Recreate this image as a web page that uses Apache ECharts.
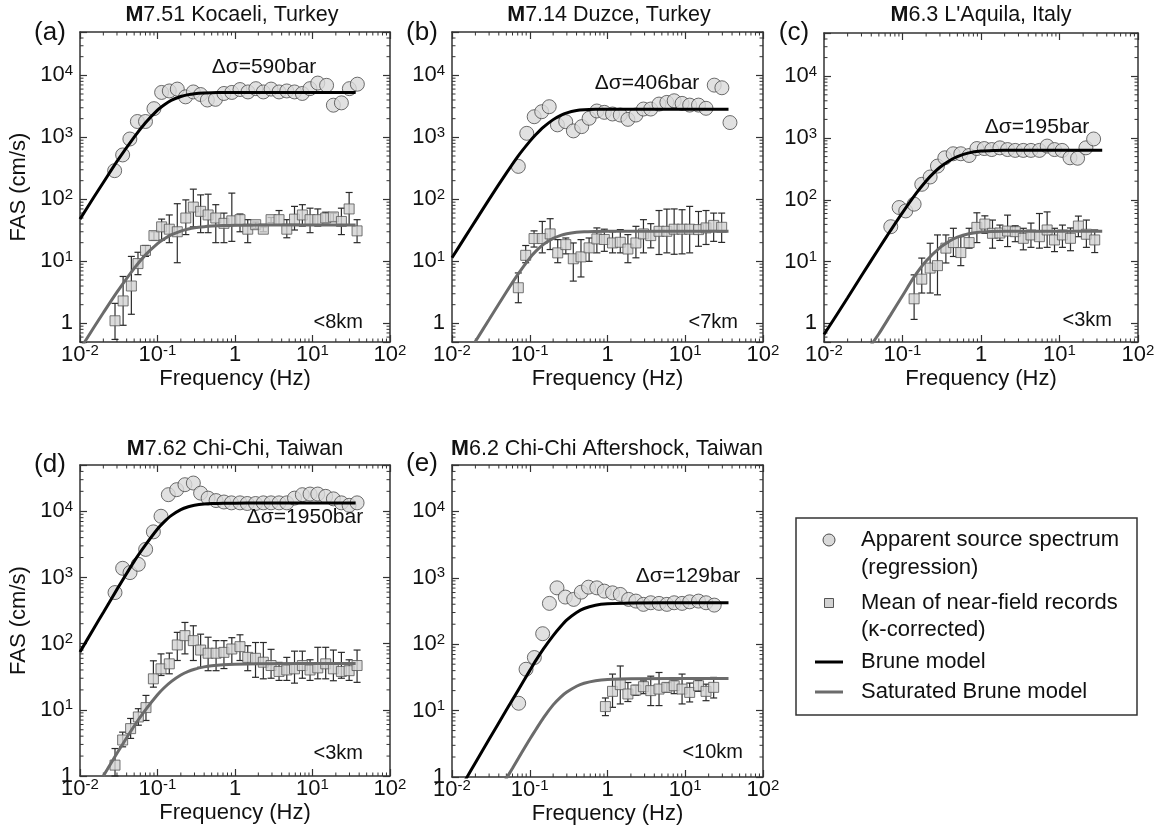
<!DOCTYPE html>
<html><head><meta charset="utf-8">
<script src="https://cdn.jsdelivr.net/npm/echarts@6/dist/echarts.min.js"></script>
<style>html,body{margin:0;padding:0;background:#fff}#c{width:1160px;height:834px}</style>
</head><body><div id="c"></div><script>
// ---------------- DATA ----------------
// circles: [freq Hz, FAS]; squares: [freq, mean, lower, upper]; model curves: [freq, FAS]
const kocaeliCircles = [[0.028,290],[0.0355,520],[0.044,940],[0.055,1800],[0.07,1800],[0.09,2900],[0.113,5300],[0.142,5600],[0.18,6000],[0.23,4500],[0.29,5400],[0.36,4900],[0.44,4000],[0.56,4100],[0.72,5100],[0.91,5300],[1.16,5900],[1.47,5400],[1.86,6100],[2.32,5400],[2.92,6000],[3.7,5400],[4.66,5600],[5.86,5400],[7.39,5100],[9.27,6100],[11.7,7500],[15.2,6900],[18.6,3300],[23.6,3600],[29.9,6100],[37.9,7200]];
const kocaeliSquares = [[0.0283,1.1,0.55,2.1],[0.036,2.3,0.93,5.7],[0.046,4.0,1.4,12],[0.056,9.2,6.1,14],[0.07,15,12,18],[0.09,26,22,30],[0.113,36,22,48],[0.142,33,20,56],[0.18,30,9.5,85],[0.232,50,27,98],[0.29,75,36,146],[0.36,64,29,118],[0.45,56,29,121],[0.565,50,20,82],[0.72,41,20,60],[0.91,45,21,126],[1.16,47,30,58],[1.46,33,20,47],[1.85,39,34,43],[2.32,33,30,36],[2.92,47,42,51],[3.7,47,38,66],[4.66,33,24,47],[5.86,48,32,77],[7.4,56,37,82],[9.3,47,29,72],[11.7,47,37,70],[14.8,50,42,62],[18.6,52,44,60],[23.6,44,27,72],[29.7,70,39,129],[37.6,31,20,47]];
const kocaeliBrune = [[0.01,48],[0.015,107],[0.02,187],[0.03,410],[0.05,1010],[0.07,1720],[0.1,2750],[0.12,3300],[0.15,3950],[0.2,4550],[0.25,4880],[0.3,5060],[0.4,5200],[0.5,5250],[0.7,5280],[1,5290],[2,5300],[36,5300]];
const kocaeliSat = [[0.01,0.38],[0.015,0.85],[0.02,1.48],[0.03,3.18],[0.05,7.7],[0.07,12.7],[0.1,19.3],[0.12,22.7],[0.15,26.7],[0.2,30.8],[0.25,33.2],[0.3,34.7],[0.4,36.2],[0.5,37.0],[0.7,37.7],[1,38.1],[2,38.4],[5,38.5],[36,38.5]];

const duzceCircles = [[0.0713,340],[0.0915,1160],[0.114,2150],[0.1425,2590],[0.178,3120],[0.227,1590],[0.29,1790],[0.364,1270],[0.466,1490],[0.58,2030],[0.73,2660],[0.91,2530],[1.16,2380],[1.46,2290],[1.83,1950],[2.32,2290],[2.9,2860],[3.6,2860],[4.6,3440],[5.8,3660],[7.2,3890],[9.1,3530],[11.4,3310],[14.8,3310],[18.5,2940],[23.6,6950],[29.6,6300],[37.6,1730]];
const duzceSquares = [[0.0713,3.75,2.15,6.5],[0.0887,12.5,9.5,18],[0.1136,23.3,17,31],[0.145,23.3,13.7,44],[0.183,27.7,15.5,48.7],[0.229,13.7,9.5,22.4],[0.291,18.6,13.2,23.8],[0.363,11,4.8,19.8],[0.456,11.8,5.6,22.4],[0.58,16.5,10,23.8],[0.73,23,13.7,34.6],[0.91,22.5,14.5,33],[1.16,19.8,13.7,30],[1.46,20.3,13.7,32.5],[1.83,15.8,9.5,27],[2.32,19.8,11.4,36.7],[2.9,27.7,13.7,47],[3.6,26,16.5,40.5],[4.6,30.5,12.9,66],[5.8,30.5,13.7,69.6],[7.2,33,13,70],[9.1,33,13.2,68],[11.4,33,13.7,77],[14.8,32.5,17.5,63.7],[18.5,34.6,18.7,66],[23.2,38,21,60],[29.4,35.4,20.2,60]];
const duzceBrune = [[0.01,11.4],[0.015,25.5],[0.02,45],[0.03,100],[0.05,265],[0.07,490],[0.1,860],[0.12,1110],[0.15,1460],[0.2,1930],[0.25,2260],[0.3,2480],[0.4,2700],[0.5,2780],[0.7,2830],[1,2845],[2,2850],[36,2850]];
const duzceSat = [[0.0198,0.5],[0.03,1.15],[0.05,3.2],[0.07,6.1],[0.1,11.3],[0.12,14.6],[0.15,18.8],[0.2,23.5],[0.25,26.3],[0.3,27.9],[0.4,29.4],[0.5,30],[0.7,30.3],[1,30.5],[36,30.5]];

const aquilaCircles = [[0.0709,36.7],[0.0906,75],[0.110,66],[0.1406,85],[0.176,178],[0.225,234],[0.279,351],[0.346,478],[0.442,556],[0.553,556],[0.706,521],[0.886,675],[1.10,675],[1.37,650],[1.74,693],[2.18,650],[2.73,630],[3.46,630],[4.33,630],[5.55,630],[6.96,740],[8.64,650],[10.8,630],[13.6,478],[17.0,470],[21.7,693],[27.2,964]];
const aquilaSquares = [[0.1406,2.5,1.16,6.1],[0.176,5.2,3.1,11.4],[0.225,7.85,3.1,19.8],[0.279,8.6,2.9,27],[0.357,16.5,9.5,27],[0.445,20.3,12.1,34.6],[0.553,14,8.6,25.3],[0.706,20.3,16.5,34.6],[0.886,35.8,20.3,61.6],[1.12,40.5,28.7,55],[1.4,28.7,16.5,47],[1.74,29,22,39],[2.18,31.2,17.5,56.5],[2.73,30.5,21,38],[3.46,23.8,15.5,34.6],[4.33,27,17,42],[5.55,25.3,16.5,60],[6.96,32.5,17,63.7],[8.64,22.4,14.5,34.6],[10.9,27,17,39],[13.8,23.8,15,35],[17.4,37.6,25.3,54.5],[22,27.7,17,47],[28.1,22.4,14,32.5]];
const aquilaBrune = [[0.01,0.66],[0.02,2.6],[0.03,5.9],[0.05,16.3],[0.07,31.5],[0.1,62],[0.15,128],[0.2,202],[0.25,272],[0.3,336],[0.4,432],[0.5,500],[0.7,574],[1,614],[1.5,628],[2,631],[35,632]];
const aquilaSat = [[0.04,0.45],[0.05,0.68],[0.07,1.35],[0.1,2.8],[0.14,5.6],[0.2,10.2],[0.3,16.8],[0.4,21.5],[0.5,24.8],[0.7,28.2],[1,30.2],[2,31],[35,31]];

const chichiCircles = [[0.0283,591],[0.0355,1375],[0.0442,1183],[0.0565,1578],[0.0703,2655],[0.0885,4886],[0.111,8410],[0.138,17800],[0.177,21200],[0.226,25200],[0.29,26700],[0.36,18800],[0.45,15800],[0.57,14500],[0.72,13800],[0.9,13400],[1.16,13400],[1.44,13100],[1.84,13100],[2.32,13400],[2.92,13400],[3.7,13400],[4.66,13400],[5.86,15800],[7.4,17800],[9.3,18200],[11.7,18200],[14.8,16800],[18.6,15400],[23.6,13400],[29.7,12300],[37.6,13400]];
const chichiSquares = [[0.0283,1.46,1.0,2.6],[0.0355,3.5,2.76,4.6],[0.045,5.2,3.7,7.4],[0.0566,7.8,5.85,10.4],[0.071,10.8,6.9,16.5],[0.0885,29.4,22,55],[0.111,41.6,33,70],[0.142,49.5,35,72],[0.18,95.6,55.6,148],[0.226,132,70,209],[0.29,111,55.6,186],[0.36,80,44,139],[0.45,71.6,39,125],[0.57,71.6,39,111],[0.72,73.8,42,111],[0.91,83,49.5,123],[1.16,90,55.6,136],[1.46,62,39,93],[1.84,60,31,104],[2.32,52.4,29.4,104],[2.92,46.7,30,82],[3.7,38,27.8,52],[4.66,40,27.8,62],[5.86,41.6,25.3,77],[7.4,46.7,30,77],[9.3,40,27.8,57],[11.7,43,29.4,88],[14.8,49.5,29.4,88],[18.6,41.6,27.5,80],[23.6,38,30,73.8],[29.7,39,27.8,57],[37.6,46.7,26,80]];
const chichiBrune = [[0.01,75],[0.015,168],[0.02,296],[0.03,660],[0.05,1750],[0.07,3100],[0.1,5400],[0.12,6800],[0.15,8600],[0.2,10600],[0.25,11700],[0.3,12300],[0.4,12850],[0.5,13050],[0.7,13200],[1,13260],[2,13300],[36,13300]];
const chichiSat = [[0.02,1.0],[0.03,2.2],[0.05,5.7],[0.07,10],[0.1,16.9],[0.12,21.2],[0.15,26.7],[0.2,33.6],[0.25,38.2],[0.3,41.1],[0.4,44.5],[0.5,46.4],[0.7,48.1],[1,49],[2,49.8],[36,50]];

const afterCircles = [[0.072,12.9],[0.0896,42],[0.1146,63],[0.1466,144],[0.179,412],[0.224,706],[0.2865,513],[0.367,473],[0.46,608],[0.57,723],[0.73,706],[0.91,630],[1.16,594],[1.46,562],[1.87,473],[2.32,446],[2.9,398],[3.6,421],[4.6,412],[5.8,398],[7.2,421],[9.1,412],[11.4,435],[14.8,446],[18.5,421],[23.6,388]];
const afterSquares = [[0.94,11.5,8.4,15.5],[1.16,19.5,11.2,35.5],[1.46,24.6,12.6,47],[1.83,17.8,13.7,26.5],[2.32,20.4,17,24],[2.9,22.9,18,28],[3.6,20,11.9,33],[4.6,21.1,11.9,37.5],[5.8,22.4,19,26],[7.2,23.7,18,28],[9.1,21.1,12.6,35.5],[11.4,18.8,13.5,26],[14.8,23.7,19.5,28.5],[18.5,19.5,14.1,25],[23.2,22.4,15.5,31.6]];
const afterBrune = [[0.01,0.41],[0.015,0.92],[0.02,1.64],[0.03,3.7],[0.05,10.2],[0.07,19.8],[0.1,40],[0.12,57],[0.15,85],[0.2,135],[0.25,185],[0.3,232],[0.4,300],[0.5,345],[0.7,385],[1,405],[2,418],[5,421],[36,421]];
const afterSat = [[0.04,0.6],[0.05,0.95],[0.06,1.35],[0.08,2.4],[0.1,3.7],[0.12,5.2],[0.15,7.8],[0.2,12.2],[0.25,16],[0.3,19],[0.4,23.3],[0.5,25.8],[0.7,28.2],[1,29.5],[2,30.3],[36,30.5]];

const panelTitles = ['7.51 Kocaeli, Turkey','7.14 Duzce, Turkey','6.3 L\'Aquila, Italy','7.62 Chi-Chi, Taiwan','6.2 Chi-Chi Aftershock, Taiwan'];
const panelLetters = ['(a)','(b)','(c)','(d)','(e)'];
const stressDrops = ['Δσ=590bar','Δσ=406bar','Δσ=195bar','Δσ=1950bar','Δσ=129bar'];
const distances = ['<8km','<7km','<3km','<3km','<10km'];
const legendLabels = [['Apparent source spectrum','(regression)'],['Mean of near-field records','(κ-corrected)'],['Brune model'],['Saturated Brune model']];

const X_MIN = 0.01, X_MAX = 100, Y_MAX = 50000;
const Y_MINS = [0.5, 0.5, 0.5, 1, 1];
const X_DECADES = [0.01, 0.1, 1, 10];
const Y_DECADES = [0.1, 1, 10, 100, 1000, 10000];
const MINOR_MULT = [2,3,4,5,6,7,8,9];

// ---------------- LAYOUT ----------------
const FONT = '"Liberation Sans", Arial, Helvetica, sans-serif';
const INK = '#111';
const grids = [
  {left:80, top:32, width:310, height:310},
  {left:452, top:32, width:311, height:310},
  {left:824, top:33, width:314, height:309},
  {left:80, top:465, width:310, height:311},
  {left:452, top:465, width:311, height:312}
];
const panels = [
  {c:kocaeliCircles, s:kocaeliSquares, b:kocaeliBrune, g:kocaeliSat},
  {c:duzceCircles, s:duzceSquares, b:duzceBrune, g:duzceSat},
  {c:aquilaCircles, s:aquilaSquares, b:aquilaBrune, g:aquilaSat},
  {c:chichiCircles, s:chichiSquares, b:chichiBrune, g:chichiSat},
  {c:afterCircles, s:afterSquares, b:afterBrune, g:afterSat}
];
const titlePos = [[232,15],[609,15],[981,15],[235,449],[607,449]];
const letterPos = [[50,33],[422,33],[794,33],[50,465],[422,464]];
const dsPos = [[264,67],[647,83],[1037,127],[305,517],[688,576]];
const distPos = [[363,322],[738,322],[1112,320],[363,753],[743,752]];

function logLabel(v){
  const l = Math.log10(v), e = Math.round(l);
  if (Math.abs(l - e) > 1e-6) return '';
  if (e === 0) return '1';
  return '10{s|' + e + '}';
}
const labelRich = { s:{fontSize:15, fontFamily:FONT, color:INK, verticalAlign:'top', lineHeight:13} };
const axisLineStyle = {color:'#333', width:1.5};
const tickStyle = {color:'#333', width:1.2};

const xAxes = [], yAxes = [], series = [];
grids.forEach((g, i) => {
  xAxes.push({type:'log', logBase:10, gridIndex:i, min:X_MIN, max:X_MAX, position:'bottom',
    axisLine:{show:true, onZero:false, lineStyle:axisLineStyle},
    axisTick:{show:true, inside:true, length:7, lineStyle:tickStyle},
    splitLine:{show:false}, minorTick:{show:false}, minorSplitLine:{show:false},
    axisLabel:{show:true, formatter:logLabel, rich:labelRich, margin:1, fontSize:22, lineHeight:24, color:INK, fontFamily:FONT, showMinLabel:true, showMaxLabel:true},
    name:'Frequency (Hz)', nameLocation:'middle', nameGap:23,
    nameTextStyle:{fontSize:22, color:INK, fontFamily:FONT}});
  xAxes.push({type:'log', logBase:10, gridIndex:i, min:X_MIN, max:X_MAX, position:'top',
    axisLine:{show:true, onZero:false, lineStyle:axisLineStyle},
    axisTick:{show:true, inside:true, length:7, lineStyle:tickStyle},
    splitLine:{show:false}, axisLabel:{show:false}});
  yAxes.push({type:'log', logBase:10, gridIndex:i, min:Y_MINS[i], max:Y_MAX, position:'left',
    axisLine:{show:true, onZero:false, lineStyle:axisLineStyle},
    axisTick:{show:true, inside:true, length:7, lineStyle:tickStyle},
    splitLine:{show:false}, minorTick:{show:false},
    axisLabel:{show:true, formatter:logLabel, rich:labelRich, margin:7, fontSize:22, lineHeight:24, color:INK, fontFamily:FONT, showMinLabel:true, showMaxLabel:true},
    name:(i===0||i===3)?'FAS (cm/s)':'', nameLocation:'middle', nameGap:50, nameRotate:90,
    nameTextStyle:{fontSize:22, color:INK, fontFamily:FONT}});
  yAxes.push({type:'log', logBase:10, gridIndex:i, min:Y_MINS[i], max:Y_MAX, position:'right',
    axisLine:{show:true, onZero:false, lineStyle:axisLineStyle},
    axisTick:{show:true, inside:true, length:7, lineStyle:tickStyle},
    splitLine:{show:false}, axisLabel:{show:false}});

  // minor ticks on all four sides (axis decoration, placed through the log scales)
  const minorData = [];
  X_DECADES.forEach(d => MINOR_MULT.forEach(m => minorData.push([m*d, 1, 0])));
  Y_DECADES.forEach(d => MINOR_MULT.forEach(m => { const v = m*d; if (v > Y_MINS[i]*1.0001 && v < Y_MAX*0.9999) minorData.push([1, v, 1]); }));
  series.push({type:'custom', xAxisIndex:2*i, yAxisIndex:2*i, silent:true, clip:false, z:1,
    encode:{x:0, y:1}, data:minorData,
    renderItem:(params, api) => {
      const cs = params.coordSys; const L = 3.5; const st = {stroke:'#333', lineWidth:1};
      if (api.value(2) === 0) {
        const x = api.coord([api.value(0), Y_MINS[i]*2])[0];
        return {type:'group', children:[
          {type:'line', shape:{x1:x, y1:cs.y+cs.height, x2:x, y2:cs.y+cs.height-L}, style:st},
          {type:'line', shape:{x1:x, y1:cs.y, x2:x, y2:cs.y+L}, style:st}]};
      }
      const y = api.coord([1, api.value(1)])[1];
      return {type:'group', children:[
        {type:'line', shape:{x1:cs.x, y1:y, x2:cs.x+L, y2:y}, style:st},
        {type:'line', shape:{x1:cs.x+cs.width, y1:y, x2:cs.x+cs.width-L, y2:y}, style:st}]};
    }});

  const p = panels[i];
  // error bars of near-field means
  series.push({type:'custom', xAxisIndex:2*i, yAxisIndex:2*i, silent:true, z:2,
    encode:{x:0, y:[2,3]}, data:p.s,
    renderItem:(params, api) => {
      const f = api.value(0);
      const lo = api.coord([f, api.value(2)]), hi = api.coord([f, api.value(3)]);
      const cs = params.coordSys;
      const yb = Math.min(lo[1], cs.y + cs.height);
      const st = {stroke:'#2a2a2a', lineWidth:1.2};
      const ch = [{type:'line', shape:{x1:lo[0], y1:yb, x2:hi[0], y2:hi[1]}, style:st},
                  {type:'line', shape:{x1:hi[0]-3.5, y1:hi[1], x2:hi[0]+3.5, y2:hi[1]}, style:st}];
      if (lo[1] <= cs.y + cs.height) ch.push({type:'line', shape:{x1:lo[0]-3.5, y1:lo[1], x2:lo[0]+3.5, y2:lo[1]}, style:st});
      return {type:'group', children:ch};
    }});
  series.push({type:'scatter', xAxisIndex:2*i, yAxisIndex:2*i, z:3, silent:true,
    encode:{x:0, y:1}, data:p.s, symbol:'rect', symbolSize:10,
    itemStyle:{color:'#d2d2d2', borderColor:'#555', borderWidth:1}});
  series.push({type:'scatter', xAxisIndex:2*i, yAxisIndex:2*i, z:3, silent:true,
    data:p.c, symbol:'circle', symbolSize:14,
    itemStyle:{color:'#d9d9d9', borderColor:'#4a4a4a', borderWidth:1}});
  series.push({type:'line', xAxisIndex:2*i, yAxisIndex:2*i, z:4, silent:true, clip:true,
    data:p.g, showSymbol:false, smooth:0.25, lineStyle:{color:'#6b6b6b', width:3}});
  series.push({type:'line', xAxisIndex:2*i, yAxisIndex:2*i, z:5, silent:true, clip:true,
    data:p.b, showSymbol:false, smooth:0.25, lineStyle:{color:'#000', width:3}});
});

// ---------------- TEXT & LEGEND ----------------
function txt(x, y, text, size, align, extra){
  return Object.assign({type:'text', x:x, y:y, silent:true, z:10,
    style:Object.assign({text:text, fill:INK, fontSize:size, fontFamily:FONT,
      align:align||'center', verticalAlign:'middle', textAlign:align||'center', textVerticalAlign:'middle'}, extra||{})});
}
const graphics = [];
panelTitles.forEach((t, i) => graphics.push(txt(titlePos[i][0], titlePos[i][1], '{b|M}' + t, 21.5, 'center',
  {rich:{b:{fontWeight:'bold', fontSize:21.5, fontFamily:FONT, fill:INK}}})));
panelLetters.forEach((t, i) => graphics.push(txt(letterPos[i][0], letterPos[i][1], t, 26)));
stressDrops.forEach((t, i) => graphics.push(txt(dsPos[i][0], dsPos[i][1], t, 21)));
distances.forEach((t, i) => graphics.push(txt(distPos[i][0], distPos[i][1], t, 20, 'right')));

// legend box
graphics.push({type:'rect', silent:true, z:9, shape:{x:796, y:518, width:341, height:197},
  style:{fill:'#fff', stroke:'#333', lineWidth:1.5}});
graphics.push({type:'circle', silent:true, z:10, shape:{cx:829, cy:540, r:6}, style:{fill:'#d9d9d9', stroke:'#4a4a4a', lineWidth:1}});
graphics.push({type:'rect', silent:true, z:10, shape:{x:824.5, y:598.5, width:9, height:9}, style:{fill:'#d2d2d2', stroke:'#555', lineWidth:1}});
graphics.push({type:'line', silent:true, z:10, shape:{x1:815, y1:662, x2:843, y2:662}, style:{stroke:'#000', lineWidth:3}});
graphics.push({type:'line', silent:true, z:10, shape:{x1:815, y1:692, x2:843, y2:692}, style:{stroke:'#6b6b6b', lineWidth:3}});
const legendRows = [[540,568],[603,630],[662],[692]];
legendLabels.forEach((lines, k) => lines.forEach((t, j) => graphics.push(txt(861, legendRows[k][j], t, 22, 'left'))));

const chart = echarts.init(document.getElementById('c'), null, {renderer:'canvas'});
chart.setOption({
  animation:false, backgroundColor:'#fff',
  textStyle:{fontFamily:FONT},
  grid:grids.map(g => Object.assign({containLabel:false}, g)),
  xAxis:xAxes, yAxis:yAxes, series:series, graphic:graphics
});
</script></body></html>
